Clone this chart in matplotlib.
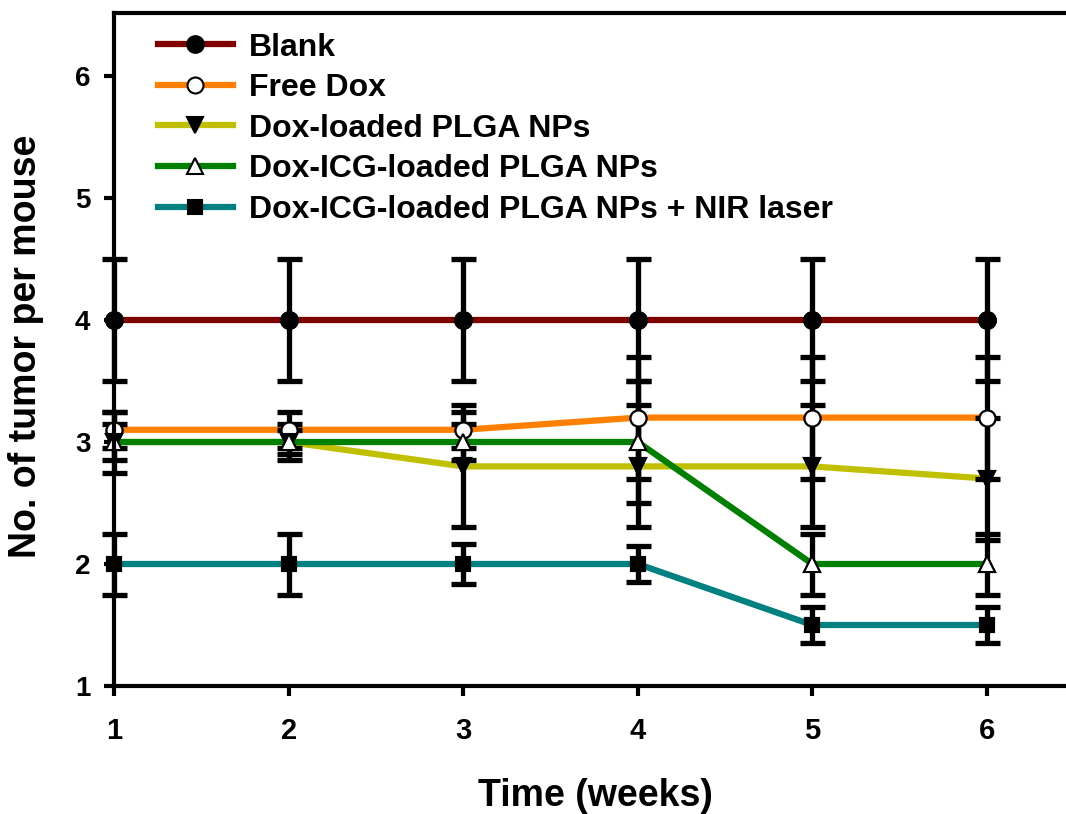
import matplotlib
matplotlib.use("Agg")
import matplotlib.pyplot as plt

plt.rcParams['font.family'] = ['Liberation Sans', 'DejaVu Sans']
plt.rcParams['font.weight'] = 'bold'

weeks = [1, 2, 3, 4, 5, 6]
series_names = ["Blank", "Free Dox", "Dox-loaded PLGA NPs",
                "Dox-ICG-loaded PLGA NPs", "Dox-ICG-loaded PLGA NPs + NIR laser"]
blank = [4.0, 4.0, 4.0, 4.0, 4.0, 4.0]
blank_err = [0.5, 0.5, 0.5, 0.5, 0.5, 0.5]
free_dox = [3.1, 3.1, 3.1, 3.2, 3.2, 3.2]
free_dox_err = [0.15, 0.15, 0.15, 0.5, 0.5, 0.5]
dox_plga = [3.0, 3.0, 2.8, 2.8, 2.8, 2.7]
dox_plga_err = [0.25, 0.1, 0.5, 0.5, 0.5, 0.5]
dox_icg = [3.0, 3.0, 3.0, 3.0, 2.0, 2.0]
dox_icg_err = [0.15, 0.15, 0.15, 0.5, 0.25, 0.25]
dox_icg_nir = [2.0, 2.0, 2.0, 2.0, 1.5, 1.5]
dox_icg_nir_err = [0.25, 0.25, 0.16, 0.15, 0.15, 0.15]

values = [blank, free_dox, dox_plga, dox_icg, dox_icg_nir]
errors = [blank_err, free_dox_err, dox_plga_err, dox_icg_err, dox_icg_nir_err]
colors = ["#800000", "#FF8000", "#C0C000", "#008000", "#008080"]
markers = ["o", "o", "v", "^", "s"]
mfaces = ["black", "white", "black", "white", "black"]
msizes = [12, 11.5, 12, 12, 10.5]

fig = plt.figure(figsize=(10.66, 8.14), dpi=100)
ax = fig.add_axes([114/1066, 1-686/814, (1066-114)/1066, (686-13)/814])

for v, e, c, m, mf, ms, name in zip(values, errors, colors, markers, mfaces, msizes, series_names):
    ax.plot(weeks, v, color=c, lw=4.5, zorder=2, label=name,
            marker=m, markerfacecolor=mf, markeredgecolor='black',
            markeredgewidth=1.5, markersize=ms, clip_on=False)
    eb = ax.errorbar(weeks, v, yerr=e, fmt='none', ecolor='black', elinewidth=3.8,
                     capsize=9, capthick=3.8, zorder=3)
    for art in eb.lines[1] + eb.lines[2]:
        art.set_clip_on(False)
    ax.plot(weeks, v, linestyle='none', marker=m, markerfacecolor=mf,
            markeredgecolor='black', markeredgewidth=1.5, markersize=ms, zorder=4,
            clip_on=False)

ax.set_xlim(1, 1 + (1066-114)/174.6)
ax.set_ylim(1, 1 + (686-13)/122.0)
ax.set_xticks(weeks)
ax.set_yticks([1, 2, 3, 4, 5, 6])
ax.spines['right'].set_visible(False)
for s in ['left', 'bottom', 'top']:
    ax.spines[s].set_linewidth(3)
    ax.spines[s].set_zorder(5)
ax.tick_params(axis='both', direction='out', length=7, width=3)
ax.tick_params(axis='y', pad=10, labelsize=20)
ax.tick_params(axis='x', pad=15, labelsize=21)
for lab in ax.get_xticklabels() + ax.get_yticklabels():
    lab.set_fontweight('bold')

ax.set_xlabel("Time (weeks)", fontsize=27, fontweight='bold')
ax.set_ylabel("No. of tumor per mouse", fontsize=27, fontweight='bold')
ax.yaxis.set_label_coords((26-114)/952, (686-346)/673)
ax.xaxis.set_label_coords((595-114)/952, (686-796)/673)
ax.xaxis.label.set_verticalalignment('center')
ax.yaxis.label.set_verticalalignment('center')

leg = ax.legend(loc='upper left', bbox_to_anchor=(0.046, 0.971), frameon=False,
                handlelength=2.35, handletextpad=0.5, labelspacing=0.33,
                borderaxespad=0, borderpad=0, prop={'weight': 'bold', 'size': 23})

fig.savefig("out.png", dpi=100)
